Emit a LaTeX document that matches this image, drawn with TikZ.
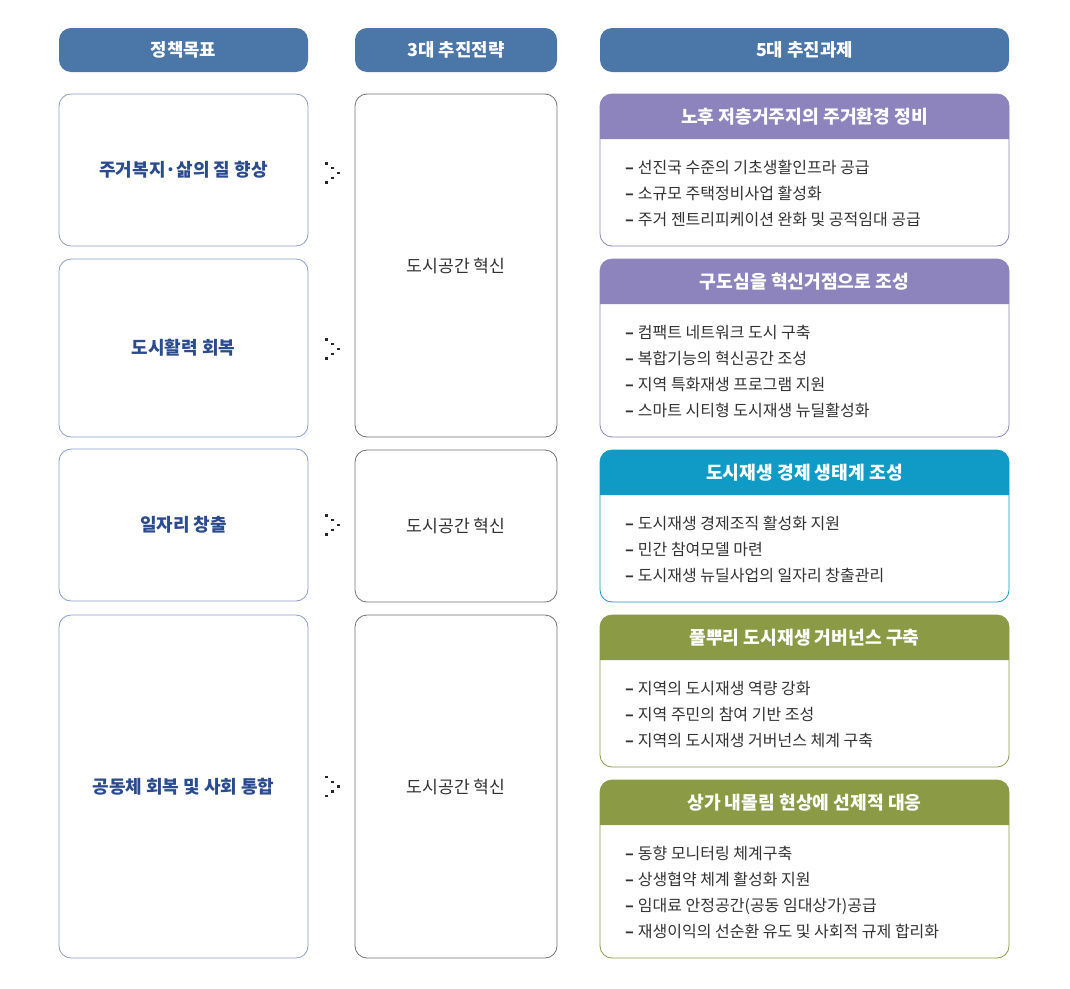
\documentclass[tikz,border=0pt]{standalone}
\usepackage{fontspec}
\setmainfont{Noto Sans CJK KR}
\definecolor{hdrblue}{HTML}{4A76A8}
\definecolor{cpurple}{HTML}{8E84BD}
\definecolor{cteal}{HTML}{0F9BC6}
\definecolor{colive}{HTML}{8A9A45}
\definecolor{goalborder}{HTML}{8A9DCB}
\definecolor{goaltext}{HTML}{2A4B8D}
\definecolor{stratborder}{HTML}{707070}
\definecolor{bodytext}{HTML}{333333}
\tikzset{
  hdr/.style={fill=hdrblue, rounded corners=12pt, text=white, inner sep=0pt,
    font=\bfseries\fontsize{17.8}{20}\selectfont},
  goal/.style={draw=goalborder, line width=0.8pt, rounded corners=12pt, fill=white,
    text=goaltext, inner sep=0pt, minimum width=249pt, font=\bfseries\fontsize{18}{20}\selectfont},
  strat/.style={draw=stratborder, line width=0.8pt, rounded corners=12pt, fill=white,
    text=bodytext, inner sep=0pt, minimum width=202pt, font=\fontsize{17.2}{20}\selectfont},
  tasktitle/.style={text=white, inner sep=0pt, font=\bfseries\fontsize{18.2}{20}\selectfont},
  item/.style={text=bodytext, inner sep=0pt, anchor=base west, font=\fontsize{16}{20}\selectfont},
  dotmark/.style={fill=black!85},
}
\newcommand{\taskbox}[6]{%
  \fill[white, rounded corners=12pt] (600,#2) rectangle (1009,#3);
  \fill[#4] (600,#2+45) [rounded corners=12pt]-- (600,#2) -- (1009,#2) [sharp corners]-- (1009,#2+45) -- cycle;
  \draw[#4, line width=0.8pt, rounded corners=12pt] (600,#2) rectangle (1009,#3);
  \node[tasktitle] (#1t) at (804.5,#2+22.5) {#5};
  \foreach \t [count=\i] in {#6} {
    \node[item] (#1-\i) at (625,{#2+45+34+(\i-1)*26}) {\textbf{–}\hspace{4pt}\t};
  }%
}
\newcommand{\dotarrow}[1]{%
  \foreach \dx/\dy in {18/-9.5, 24/-4.8, 30/0, 24/4.8, 18/9.5} {
    \fill[dotmark] ([xshift=\dx pt-1.2pt, yshift=-\dy pt-1.2pt]#1.east) rectangle ++(2.4,-2.4);
  }%
}
\begin{document}
\begin{tikzpicture}[x=1pt,y=-1pt]
\useasboundingbox (0,0) rectangle (1070,988);
% headers
\node[hdr, minimum width=249pt, minimum height=44pt] (h1) at (183.5,50) {정책목표};
\node[hdr, minimum width=202pt, minimum height=44pt] (h2) at (456,50) {3대 추진전략};
\node[hdr, minimum width=409pt, minimum height=44pt] (h3) at (804.5,50) {5대 추진과제};
% goals
\node[goal, minimum height=152pt] (g1) at (183.5,170) {주거복지·삶의 질 향상};
\node[goal, minimum height=178pt] (g2) at (183.5,348) {도시활력 회복};
\node[goal, minimum height=152pt] (g3) at (183.5,525) {일자리 창출};
\node[goal, minimum height=343pt] (g4) at (183.5,786.5) {공동체 회복 및 사회 통합};
% strategies
\node[strat, minimum height=343pt] (s1) at (456,265.5) {도시공간 혁신};
\node[strat, minimum height=152pt] (s2) at (456,526) {도시공간 혁신};
\node[strat, minimum height=343pt] (s3) at (456,786.5) {도시공간 혁신};
% dot connectors
\coordinate (d1) at ([yshift=-3pt]g1.east);
\coordinate (d2) at ([yshift=-1pt]g2.east);
\coordinate (d3) at (g3.east);
\coordinate (d4) at (g4.east);
\dotarrow{d1}
\dotarrow{d2}
\dotarrow{d3}
\dotarrow{d4}
% tasks
\taskbox{r1}{94}{246}{cpurple}{노후 저층거주지의 주거환경 정비}{선진국 수준의 기초생활인프라 공급, 소규모 주택정비사업 활성화, 주거 젠트리피케이션 완화 및 공적임대 공급}
\taskbox{r2}{259}{437}{cpurple}{구도심을 혁신거점으로 조성}{컴팩트 네트워크 도시 구축, 복합기능의 혁신공간 조성, 지역 특화재생 프로그램 지원, 스마트 시티형 도시재생 뉴딜활성화}
\taskbox{r3}{450}{602}{cteal}{도시재생 경제 생태계 조성}{도시재생 경제조직 활성화 지원, 민간 참여모델 마련, 도시재생 뉴딜사업의 일자리 창출관리}
\taskbox{r4}{615}{767}{colive}{풀뿌리 도시재생 거버넌스 구축}{지역의 도시재생 역량 강화, 지역 주민의 참여 기반 조성, 지역의 도시재생 거버넌스 체계 구축}
\taskbox{r5}{780}{958}{colive}{상가 내몰림 현상에 선제적 대응}{동향 모니터링 체계구축, 상생협약 체계 활성화 지원, 임대료 안정공간(공동 임대상가)공급, 재생이익의 선순환 유도 및 사회적 규제 합리화}
\end{tikzpicture}
\end{document}
